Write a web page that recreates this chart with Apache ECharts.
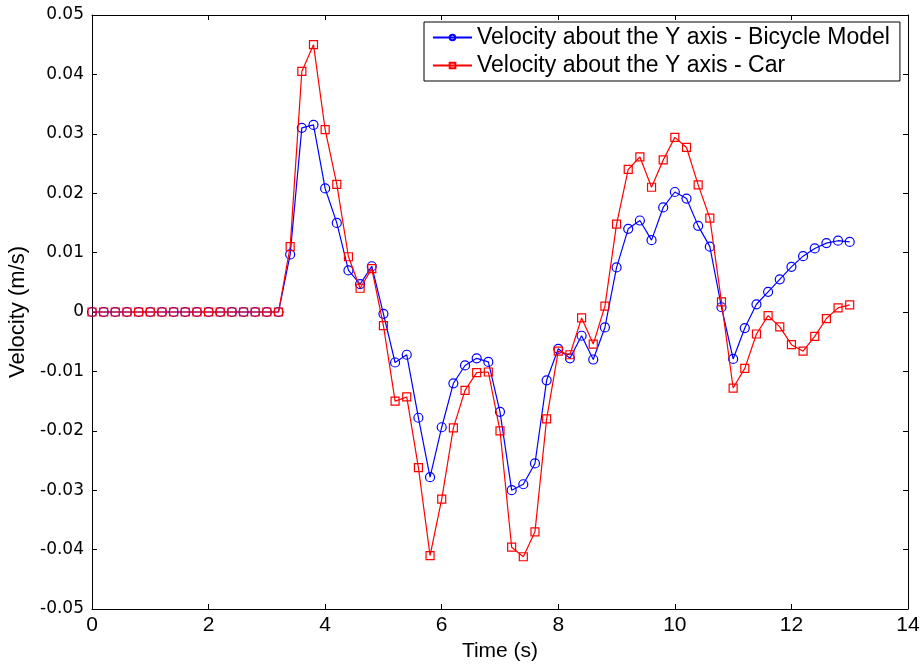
<!DOCTYPE html>
<html>
<head>
<meta charset="utf-8">
<script src="https://cdn.jsdelivr.net/npm/echarts@6/dist/echarts.min.js"></script>
<style>
  html, body { margin: 0; padding: 0; background: #fff; }
  #chart { width: 922px; height: 668px; }
</style>
</head>
<body>
<div id="chart"></div>
<script>
// Sample times (s), one every 0.2 s from 0 to 13
const timeS = [];
for (let i = 0; i <= 65; i++) timeS.push(+(i * 0.2).toFixed(1));

// Lateral velocity of the bicycle model (m/s)
const bicycleVel = [
  0, 0, 0, 0, 0, 0, 0, 0, 0, 0, 0, 0, 0, 0, 0, 0, 0,
  0.0097, 0.0310, 0.0315, 0.0208, 0.0150, 0.0070, 0.0047, 0.0077,
  -0.0003, -0.0085, -0.0072, -0.0178, -0.0278, -0.0194, -0.0120, -0.0090,
  -0.0078, -0.0084, -0.0168, -0.0300, -0.0290, -0.0255, -0.0115, -0.0062,
  -0.0078, -0.0040, -0.0080, -0.0026, 0.0075, 0.0140, 0.0154, 0.0121,
  0.0176, 0.0202, 0.0191, 0.0145, 0.0110, 0.0008, -0.0079, -0.0027,
  0.0013, 0.0034, 0.0055, 0.0076, 0.0094, 0.0107, 0.0116, 0.0120, 0.0118
];

// Lateral velocity of the car (m/s)
const carVel = [
  0, 0, 0, 0, 0, 0, 0, 0, 0, 0, 0, 0, 0, 0, 0, 0, 0,
  0.0110, 0.0405, 0.0450, 0.0307, 0.0215, 0.0093, 0.0040, 0.0073,
  -0.0023, -0.0150, -0.0143, -0.0262, -0.0410, -0.0315, -0.0195, -0.0132,
  -0.0102, -0.0101, -0.0200, -0.0396, -0.0412, -0.0370, -0.0180, -0.0066,
  -0.0072, -0.0010, -0.0054, 0.0010, 0.0148, 0.0240, 0.0261, 0.0210,
  0.0256, 0.0294, 0.0277, 0.0214, 0.0158, 0.0017, -0.0128, -0.0095,
  -0.0037, -0.0006, -0.0025, -0.0055, -0.0066, -0.0041, -0.0011, 0.0007, 0.0012
];

const seriesNames = [
  'Velocity about the Y axis - Bicycle Model',
  'Velocity about the Y axis - Car'
];

const FONT = 'Liberation Sans, Arial, Helvetica, sans-serif';
const FONT_NARROW = 'Liberation Sans Narrow, Arial Narrow, Liberation Sans, sans-serif';
const FONT_WIDE = 'DejaVu Sans, Liberation Sans, sans-serif';

function pairs(ys) { return timeS.map((t, i) => [t, ys[i]]); }

const tickStyle = { show: true, inside: true, length: 5, lineStyle: { color: '#000', width: 1 } };
const lineStyleAxis = { show: true, onZero: false, lineStyle: { color: '#000', width: 1 } };

const chart = echarts.init(document.getElementById('chart'), null, { renderer: 'canvas' });
chart.setOption({
  animation: false,
  backgroundColor: '#fff',
  grid: { left: 92, top: 15, right: 14, bottom: 59, containLabel: false, outerBoundsMode: 'none' },
  legend: {
    left: 424,
    top: 22,
    orient: 'vertical',
    backgroundColor: '#fff',
    borderColor: '#000',
    borderWidth: 1,
    borderRadius: 0,
    padding: [4, 10, 4, 8],
    itemGap: 5,
    itemWidth: 39,
    itemHeight: 7,
    textStyle: { fontFamily: FONT, fontSize: 23, color: '#000', lineHeight: 23 },
    data: seriesNames
  },
  xAxis: [
    {
      type: 'value', min: 0, max: 14, interval: 2,
      name: 'Time (s)', nameLocation: 'middle', nameGap: 32,
      nameTextStyle: { fontFamily: FONT, fontSize: 21, color: '#000' },
      axisLine: lineStyleAxis, axisTick: tickStyle,
      axisLabel: { fontFamily: FONT_NARROW, fontSize: 21, color: '#000', margin: 6 },
      splitLine: { show: false }
    },
    {
      type: 'value', min: 0, max: 14, interval: 2, position: 'top',
      axisLine: lineStyleAxis, axisTick: tickStyle,
      axisLabel: { show: false }, splitLine: { show: false }
    }
  ],
  yAxis: [
    {
      type: 'value', min: -0.05, max: 0.05, interval: 0.01,
      name: 'Velocity (m/s)', nameLocation: 'middle', nameGap: 59, nameRotate: 90,
      nameTextStyle: { fontFamily: FONT, fontSize: 22, color: '#000' },
      axisLine: lineStyleAxis, axisTick: tickStyle,
      axisLabel: {
        fontFamily: FONT_WIDE, fontSize: 17, color: '#000', margin: 8,
        formatter: v => String(Math.round(v * 100) / 100)
      },
      splitLine: { show: false }
    },
    {
      type: 'value', min: -0.05, max: 0.05, interval: 0.01, position: 'right',
      axisLine: lineStyleAxis, axisTick: tickStyle,
      axisLabel: { show: false }, splitLine: { show: false }
    }
  ],
  series: [
    {
      name: seriesNames[0], type: 'line', data: pairs(bicycleVel),
      symbol: 'circle', symbolSize: 9, showAllSymbol: true,
      lineStyle: { color: '#0000ff', width: 1.2 },
      itemStyle: { color: 'rgba(255,255,255,0)', borderColor: '#0000ff', borderWidth: 1.2 },
      emphasis: { disabled: true }, z: 3
    },
    {
      name: seriesNames[1], type: 'line', data: pairs(carVel),
      symbol: 'rect', symbolSize: 8, showAllSymbol: true,
      lineStyle: { color: '#ff0000', width: 1.2 },
      itemStyle: { color: 'rgba(255,255,255,0)', borderColor: '#ff0000', borderWidth: 1.2 },
      emphasis: { disabled: true }, z: 4
    }
  ]
});
</script>
</body>
</html>
